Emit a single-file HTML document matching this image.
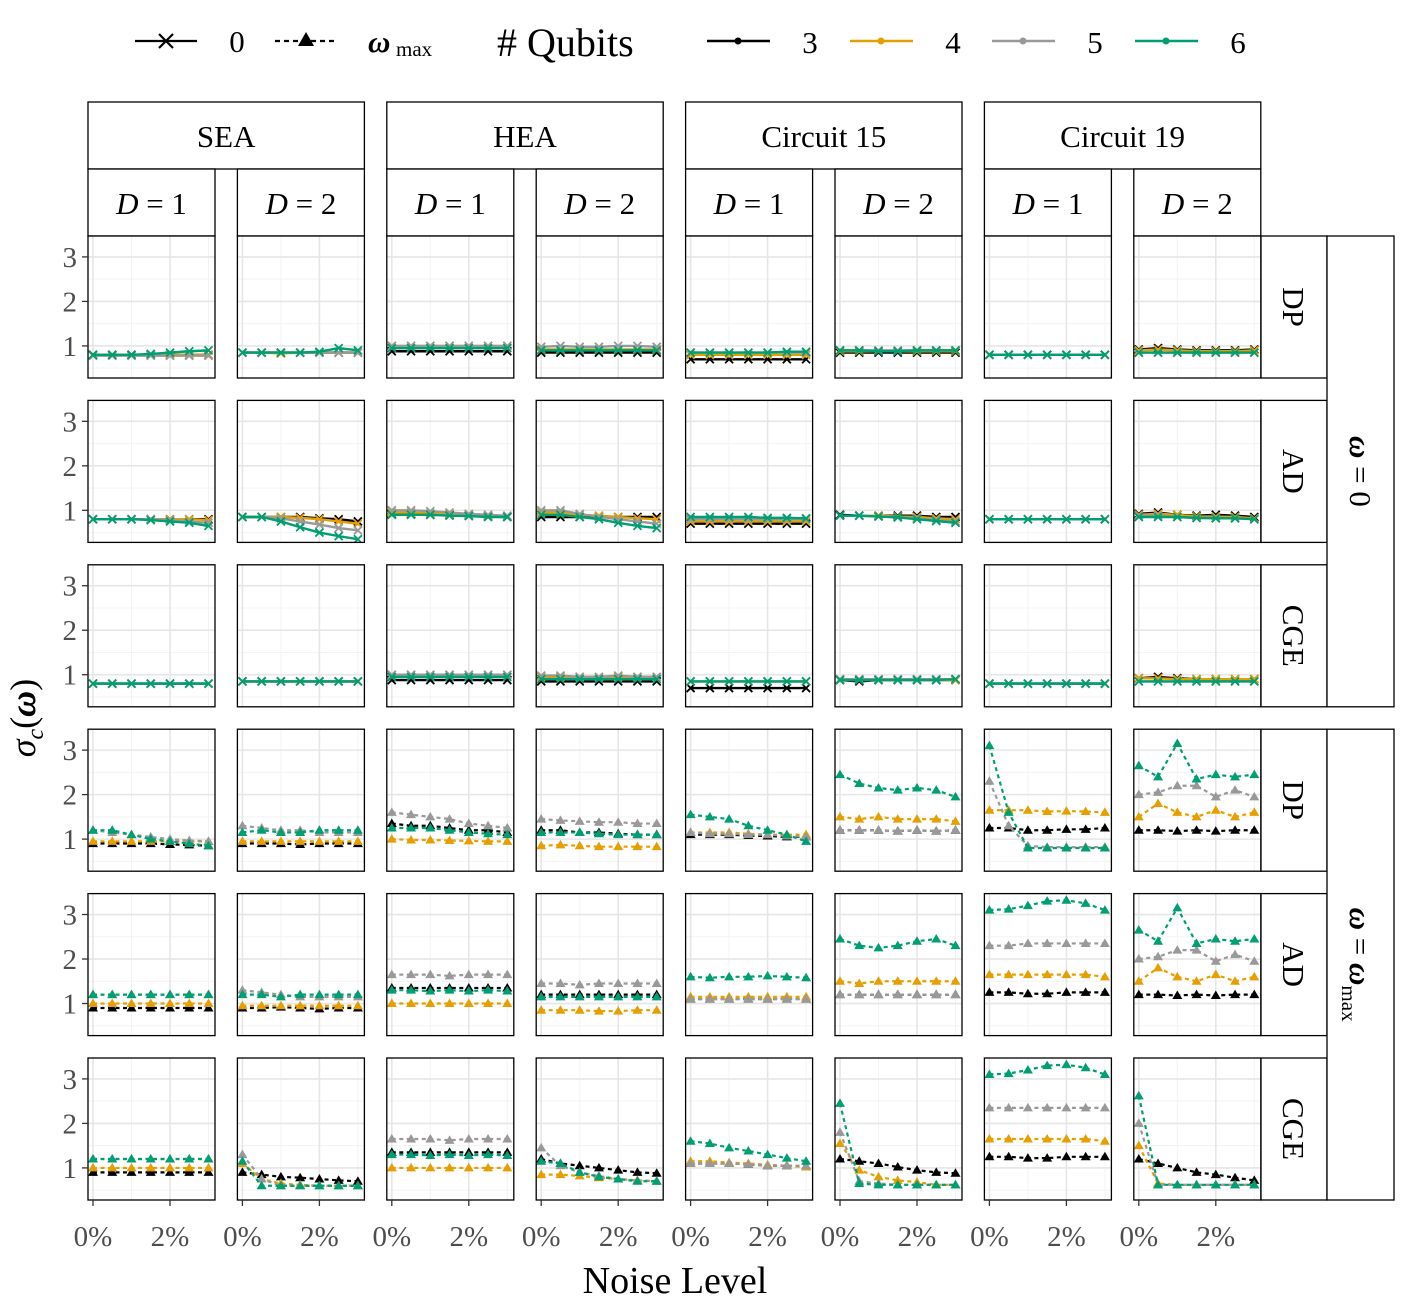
<!DOCTYPE html>
<html><head><meta charset="utf-8"><style>
html,body{margin:0;padding:0;background:#fff;}
svg{display:block;font-family:"Liberation Serif",serif;}
</style></head><body>
<svg id="chart" width="1415" height="1302" viewBox="0 0 1415 1302" xmlns="http://www.w3.org/2000/svg">
<g id="legend">
  <g>
    <line x1="135" y1="41" x2="197" y2="41" stroke="#000" stroke-width="2.2"/>
    <path d="M159,34 L173,48 M173,34 L159,48" stroke="#000" stroke-width="2.2"/>
    <text x="237" y="52" font-size="31" text-anchor="middle">0</text>
  </g>
  <g>
    <line x1="275" y1="41" x2="337" y2="41" stroke="#000" stroke-width="2.2" stroke-dasharray="5,4"/>
    <path d="M306,32 L314,46 L298,46 Z" fill="#000"/>
    <text x="368" y="52" font-size="31" font-style="italic" font-weight="bold">ω</text>
    <text x="396" y="56" font-size="21">max</text>
  </g>
  <text x="497" y="56" font-size="40"># Qubits</text>
  <g id="qlegend"></g>
</g>
<g id="plot"></g>
<text x="675" y="1293" font-size="38" text-anchor="middle">Noise Level</text>
<g transform="translate(35,718) rotate(-90)">
  <text x="0" y="0" font-size="36" text-anchor="middle"><tspan font-style="italic">σ</tspan><tspan font-size="24" font-style="italic" dy="8">c</tspan><tspan dy="-8">(</tspan><tspan font-weight="bold" font-style="italic">ω</tspan><tspan>)</tspan></text>
</g>
</svg>
<script>
const colors = ["#000000","#E69F00","#999999","#009E73"];
const qubitLabels = ["3","4","5","6"];
const noiseLevels = [0,0.5,1,1.5,2,2.5,3];
const groups = ["SEA","HEA","Circuit 15","Circuit 19"];
const rowLabels = ["DP","AD","CGE","DP","AD","CGE"];
const yTicks = [1,2,3];
const xTicks = [0,2];
const xTickLabels = ["0%","2%"];
// data[row][col] = [q3,q4,q5,q6], each 7 values
const rowDP0 = [
 ["0.8 0.8 0.8 0.8 0.8 0.8 0.8","0.8 0.8 0.8 0.8 0.8 0.8 0.8","0.78 0.78 0.78 0.78 0.78 0.78 0.78","0.8 0.8 0.8 0.82 0.85 0.88 0.9"],
 ["0.85 0.85 0.85 0.85 0.85 0.85 0.85","0.85 0.85 0.83 0.85 0.85 0.85 0.85","0.85 0.85 0.85 0.85 0.85 0.85 0.85","0.85 0.85 0.85 0.85 0.87 0.95 0.9"],
 ["0.88 0.88 0.88 0.88 0.88 0.88 0.88","1.0 1.0 1.0 1.0 1.0 1.0 1.0","1.0 1.0 1.0 1.0 1.0 1.0 1.0","0.95 0.95 0.95 0.95 0.95 0.95 0.95"],
 ["0.85 0.85 0.85 0.85 0.85 0.85 0.85","0.92 0.92 0.92 0.92 0.92 0.92 0.92","0.98 1.0 0.98 0.98 1.0 1.0 0.98","0.9 0.9 0.9 0.9 0.9 0.9 0.9"],
 ["0.7 0.7 0.7 0.7 0.7 0.7 0.7","0.8 0.8 0.8 0.8 0.8 0.8 0.8","0.85 0.85 0.85 0.85 0.85 0.85 0.85","0.85 0.85 0.85 0.85 0.85 0.87 0.87"],
 ["0.85 0.85 0.85 0.85 0.85 0.85 0.85","0.88 0.88 0.88 0.88 0.88 0.88 0.88","0.9 0.9 0.9 0.9 0.9 0.9 0.9","0.9 0.9 0.88 0.88 0.9 0.9 0.9"],
 ["0.8 0.8 0.8 0.8 0.8 0.8 0.8","0.8 0.8 0.8 0.8 0.8 0.8 0.8","0.8 0.8 0.8 0.8 0.8 0.8 0.8","0.8 0.8 0.8 0.8 0.8 0.8 0.8"],
 ["0.92 0.95 0.92 0.9 0.9 0.9 0.92","0.9 0.92 0.9 0.88 0.88 0.88 0.9","0.85 0.85 0.85 0.85 0.85 0.85 0.85","0.85 0.85 0.85 0.85 0.85 0.85 0.85"]
];
const rowAD0 = [
 ["0.8 0.8 0.8 0.8 0.8 0.8 0.8","0.8 0.8 0.8 0.8 0.8 0.8 0.78","0.8 0.8 0.8 0.8 0.78 0.75 0.72","0.8 0.8 0.8 0.78 0.75 0.72 0.65"],
 ["0.85 0.85 0.85 0.85 0.82 0.8 0.75","0.85 0.85 0.85 0.83 0.8 0.75 0.7","0.85 0.85 0.82 0.75 0.68 0.6 0.55","0.85 0.85 0.75 0.62 0.5 0.42 0.35"],
 ["0.92 0.92 0.9 0.9 0.88 0.86 0.85","0.95 0.95 0.93 0.92 0.9 0.88 0.86","1.0 1.0 0.98 0.95 0.92 0.9 0.88","0.9 0.9 0.9 0.88 0.87 0.85 0.85"],
 ["0.85 0.85 0.85 0.85 0.85 0.85 0.85","0.95 0.95 0.9 0.88 0.85 0.82 0.8","1.0 1.0 0.92 0.85 0.8 0.75 0.7","0.9 0.9 0.85 0.8 0.72 0.65 0.6"],
 ["0.7 0.7 0.7 0.7 0.7 0.7 0.7","0.75 0.75 0.75 0.75 0.75 0.75 0.75","0.8 0.8 0.8 0.8 0.8 0.8 0.8","0.85 0.85 0.85 0.85 0.83 0.83 0.82"],
 ["0.9 0.88 0.88 0.88 0.88 0.85 0.85","0.88 0.88 0.88 0.86 0.85 0.82 0.8","0.88 0.88 0.86 0.85 0.82 0.78 0.75","0.88 0.88 0.86 0.84 0.8 0.76 0.72"],
 ["0.8 0.8 0.8 0.8 0.8 0.8 0.8","0.8 0.8 0.8 0.8 0.8 0.8 0.8","0.8 0.8 0.8 0.8 0.8 0.8 0.8","0.8 0.8 0.8 0.8 0.8 0.8 0.8"],
 ["0.92 0.95 0.9 0.88 0.9 0.88 0.85","0.9 0.92 0.9 0.86 0.86 0.85 0.82","0.88 0.88 0.85 0.83 0.83 0.82 0.8","0.85 0.85 0.85 0.83 0.82 0.82 0.8"]
];
const rowCGE0 = [
 ["0.8 0.8 0.8 0.8 0.8 0.8 0.8","0.8 0.8 0.8 0.8 0.8 0.8 0.8","0.8 0.8 0.8 0.8 0.8 0.8 0.8","0.8 0.8 0.8 0.8 0.8 0.8 0.8"],
 ["0.85 0.85 0.85 0.85 0.85 0.85 0.85","0.85 0.85 0.85 0.85 0.85 0.85 0.85","0.85 0.85 0.85 0.85 0.85 0.85 0.85","0.85 0.85 0.85 0.85 0.85 0.85 0.85"],
 ["0.88 0.88 0.88 0.88 0.88 0.88 0.88","1.0 1.0 1.0 1.0 1.0 1.0 1.0","1.0 1.0 1.0 1.0 1.0 1.0 1.0","0.95 0.95 0.95 0.95 0.95 0.95 0.95"],
 ["0.85 0.85 0.85 0.85 0.85 0.85 0.85","0.95 0.95 0.95 0.95 0.95 0.95 0.95","0.98 0.98 0.95 0.95 0.98 0.95 0.95","0.9 0.9 0.9 0.9 0.9 0.9 0.9"],
 ["0.7 0.7 0.7 0.7 0.7 0.7 0.7","0.85 0.85 0.85 0.85 0.85 0.85 0.85","0.85 0.85 0.85 0.85 0.85 0.85 0.85","0.85 0.85 0.85 0.85 0.85 0.85 0.85"],
 ["0.88 0.85 0.88 0.88 0.88 0.88 0.88","0.88 0.88 0.88 0.88 0.88 0.88 0.88","0.9 0.9 0.9 0.9 0.9 0.9 0.9","0.88 0.88 0.88 0.88 0.88 0.88 0.9"],
 ["0.8 0.8 0.8 0.8 0.8 0.8 0.8","0.8 0.8 0.8 0.8 0.8 0.8 0.8","0.8 0.8 0.8 0.8 0.8 0.8 0.8","0.8 0.8 0.8 0.8 0.8 0.8 0.8"],
 ["0.92 0.95 0.92 0.9 0.9 0.9 0.9","0.92 0.92 0.9 0.9 0.9 0.9 0.9","0.85 0.85 0.85 0.85 0.85 0.85 0.85","0.85 0.85 0.85 0.85 0.85 0.85 0.85"]
];
const rowDPm = [
 ["0.9 0.9 0.9 0.9 0.88 0.87 0.85","0.95 0.95 0.95 0.95 0.95 0.95 0.95","1.2 1.15 1.1 1.05 1.0 0.97 0.95","1.2 1.2 1.1 1.0 0.95 0.9 0.85"],
 ["0.9 0.9 0.9 0.88 0.9 0.9 0.9","0.95 0.95 0.95 0.95 0.95 0.95 0.95","1.3 1.25 1.2 1.2 1.15 1.15 1.15","1.15 1.2 1.15 1.15 1.2 1.2 1.2"],
 ["1.35 1.3 1.3 1.25 1.2 1.2 1.15","1.0 0.98 0.98 0.97 0.96 0.95 0.95","1.6 1.55 1.5 1.45 1.35 1.3 1.25","1.25 1.25 1.25 1.2 1.15 1.12 1.1"],
 ["1.2 1.2 1.15 1.15 1.12 1.1 1.1","0.85 0.87 0.85 0.83 0.83 0.83 0.83","1.45 1.42 1.4 1.38 1.38 1.35 1.35","1.15 1.15 1.15 1.12 1.1 1.1 1.1"],
 ["1.1 1.1 1.1 1.08 1.07 1.05 1.05","1.15 1.15 1.15 1.12 1.1 1.1 1.1","1.15 1.12 1.12 1.1 1.1 1.07 1.05","1.55 1.5 1.45 1.3 1.2 1.1 0.95"],
 ["1.2 1.2 1.2 1.18 1.2 1.18 1.2","1.5 1.45 1.5 1.45 1.45 1.45 1.4","1.2 1.2 1.2 1.18 1.2 1.18 1.2","2.45 2.25 2.15 2.1 2.15 2.1 1.95"],
 ["1.25 1.25 1.2 1.2 1.22 1.22 1.25","1.65 1.65 1.65 1.62 1.63 1.62 1.6","2.3 1.3 0.85 0.82 0.82 0.82 0.82","3.1 1.6 0.8 0.8 0.8 0.8 0.8"],
 ["1.2 1.2 1.18 1.2 1.18 1.2 1.2","1.5 1.8 1.6 1.5 1.65 1.5 1.6","2.0 2.05 2.2 2.2 1.95 2.1 1.95","2.65 2.4 3.15 2.35 2.45 2.4 2.45"]
];
const rowADm = [
 ["0.9 0.9 0.9 0.9 0.9 0.9 0.9","1.0 1.0 1.0 1.0 1.0 1.0 1.0","1.2 1.2 1.2 1.2 1.2 1.2 1.2","1.2 1.2 1.2 1.2 1.2 1.2 1.2"],
 ["0.9 0.9 0.92 0.9 0.88 0.9 0.9","0.95 0.95 0.95 0.95 0.95 0.95 0.95","1.3 1.25 1.2 1.15 1.15 1.15 1.15","1.2 1.2 1.15 1.2 1.2 1.2 1.2"],
 ["1.35 1.35 1.35 1.35 1.35 1.35 1.35","1.0 1.0 1.0 1.0 1.0 1.0 1.0","1.65 1.65 1.65 1.62 1.65 1.65 1.65","1.3 1.3 1.28 1.3 1.28 1.3 1.28"],
 ["1.2 1.2 1.2 1.2 1.2 1.2 1.2","0.85 0.85 0.85 0.83 0.83 0.85 0.85","1.45 1.45 1.42 1.45 1.45 1.45 1.45","1.15 1.15 1.15 1.15 1.15 1.15 1.15"],
 ["1.1 1.1 1.1 1.1 1.1 1.1 1.1","1.15 1.15 1.15 1.15 1.15 1.15 1.15","1.1 1.1 1.1 1.1 1.1 1.1 1.1","1.6 1.58 1.6 1.6 1.62 1.6 1.58"],
 ["1.2 1.2 1.2 1.2 1.2 1.2 1.2","1.5 1.45 1.5 1.5 1.5 1.5 1.5","1.2 1.2 1.2 1.2 1.2 1.2 1.2","2.45 2.3 2.25 2.3 2.4 2.45 2.3"],
 ["1.25 1.25 1.22 1.22 1.25 1.25 1.25","1.65 1.65 1.65 1.65 1.65 1.65 1.6","2.3 2.3 2.35 2.35 2.35 2.35 2.35","3.1 3.12 3.2 3.3 3.32 3.25 3.1"],
 ["1.2 1.2 1.18 1.2 1.18 1.2 1.2","1.5 1.8 1.6 1.5 1.65 1.5 1.6","2.0 2.05 2.2 2.2 1.95 2.1 1.95","2.65 2.4 3.15 2.35 2.45 2.4 2.45"]
];
const rowCGEm = [
 ["0.9 0.9 0.9 0.9 0.9 0.9 0.9","1.0 1.0 1.0 1.0 1.0 1.0 1.0","1.2 1.2 1.2 1.2 1.2 1.2 1.2","1.2 1.2 1.2 1.2 1.2 1.2 1.2"],
 ["0.9 0.85 0.8 0.78 0.75 0.72 0.7","1.1 0.75 0.65 0.62 0.6 0.6 0.6","1.3 0.75 0.6 0.6 0.6 0.6 0.6","1.15 0.6 0.6 0.6 0.6 0.6 0.6"],
 ["1.35 1.35 1.35 1.35 1.35 1.35 1.35","1.0 1.0 1.0 1.0 1.0 1.0 1.0","1.65 1.65 1.65 1.62 1.65 1.65 1.65","1.3 1.3 1.28 1.3 1.28 1.3 1.28"],
 ["1.2 1.1 1.05 1.0 0.95 0.9 0.88","0.85 0.85 0.82 0.78 0.75 0.72 0.7","1.45 1.05 0.9 0.82 0.75 0.72 0.7","1.15 1.1 0.9 0.8 0.75 0.7 0.7"],
 ["1.1 1.1 1.1 1.08 1.05 1.05 1.02","1.15 1.15 1.12 1.1 1.07 1.05 1.02","1.1 1.1 1.1 1.08 1.05 1.05 1.05","1.6 1.55 1.45 1.38 1.3 1.22 1.15"],
 ["1.2 1.15 1.1 1.02 0.95 0.9 0.88","1.55 0.95 0.8 0.72 0.68 0.62 0.62","1.8 0.7 0.65 0.62 0.62 0.62 0.62","2.45 0.65 0.62 0.62 0.62 0.62 0.62"],
 ["1.25 1.25 1.22 1.22 1.25 1.25 1.25","1.65 1.65 1.65 1.65 1.65 1.65 1.6","2.35 2.35 2.35 2.35 2.35 2.35 2.35","3.1 3.12 3.2 3.3 3.32 3.25 3.1"],
 ["1.2 1.1 1.0 0.9 0.85 0.78 0.72","1.5 0.65 0.62 0.62 0.62 0.62 0.62","2.0 0.62 0.62 0.62 0.62 0.62 0.62","2.62 0.62 0.62 0.62 0.62 0.62 0.62"]
];
const allRows = [rowDP0,rowAD0,rowCGE0,rowDPm,rowADm,rowCGEm];

const NS="http://www.w3.org/2000/svg";
function mk(tag, attrs, parent){const e=document.createElementNS(NS,tag);for(const k in attrs)e.setAttribute(k,attrs[k]);if(parent)parent.appendChild(e);return e;}
const plot=document.getElementById('plot');
const PW=127, PH=142, COLSTEP=149.4, ROWSTEP=164.4, X0=88, Y0=236;
const YMAX=3.47, YPX=44.5, XPX=38.5, XOFF=5;
function xs(col,v){return X0+col*COLSTEP+XOFF+v*XPX;}
function ys(row,v){return Y0+row*ROWSTEP+(YMAX-v)*YPX;}

// qubit legend
const ql=document.getElementById('qlegend');
const qlx=[707,850,992,1135];
for(let q=0;q<4;q++){
  const g=mk('g',{},ql);
  
  
  mk('line',{x1:qlx[q],y1:41,x2:qlx[q]+63,y2:41,stroke:colors[q],'stroke-width':2.5},g);
  mk('circle',{cx:qlx[q]+31,cy:41,r:3.5,fill:colors[q]},g);
  const t=mk('text',{x:qlx[q]+103,y:53,'font-size':31,'text-anchor':'middle'},g);t.textContent=qubitLabels[q];
}

// top strips
for(let gi=0;gi<4;gi++){
  const x=X0+2*gi*COLSTEP;
  const g=mk('g',{},plot);
  
  
  mk('rect',{x:x,y:102,width:COLSTEP+PW,height:67,fill:'#fff',stroke:'#000','stroke-width':1.3},g);
  const t=mk('text',{x:x+(COLSTEP+PW)/2,y:147,'font-size':31,'text-anchor':'middle'},g);t.textContent=groups[gi];
  for(let d=0;d<2;d++){
    const cx=x+d*COLSTEP;
    const sg=mk('g',{},plot);
    
    
    mk('rect',{x:cx,y:169,width:PW,height:67,fill:'#fff',stroke:'#000','stroke-width':1.3},sg);
    const tt=mk('text',{x:cx+PW/2,y:214,'font-size':31,'text-anchor':'middle'},sg);
    tt.innerHTML='<tspan font-style="italic">D</tspan> = '+(d+1);
  }
}
// right strips
for(let r=0;r<6;r++){
  const y=Y0+r*ROWSTEP;
  const g=mk('g',{},plot);
  
  
  mk('rect',{x:1261,y:y,width:66,height:PH,fill:'#fff',stroke:'#000','stroke-width':1.3},g);
  const t=mk('text',{x:0,y:0,'font-size':31,'text-anchor':'middle',transform:`translate(1283,${y+PH/2}) rotate(90)`},g);t.textContent=rowLabels[r];
}
for(let o=0;o<2;o++){
  const y=Y0+o*3*ROWSTEP, h=2*ROWSTEP+PH;
  const g=mk('g',{},plot);
  
  
  mk('rect',{x:1327,y:y,width:67,height:h,fill:'#fff',stroke:'#000','stroke-width':1.3},g);
  const t=mk('text',{x:0,y:0,'font-size':31,transform:`translate(1350,${y+h/2}) rotate(90)`,'text-anchor':'middle'},g);
  t.innerHTML=o?'<tspan font-weight="bold" font-style="italic">ω</tspan> = <tspan font-weight="bold" font-style="italic">ω</tspan><tspan font-size="21" dy="8">max</tspan>':'<tspan font-weight="bold" font-style="italic">ω</tspan> = 0';
}

// panels
for(let r=0;r<6;r++){
  for(let c=0;c<8;c++){
    const px=X0+c*COLSTEP, py=Y0+r*ROWSTEP;
    const g=mk('g',{},plot);
    
    
    mk('rect',{x:px,y:py,width:PW,height:PH,fill:'#fff'},g);
    const cid='clip'+r+'_'+c;
    const cp=mk('clipPath',{id:cid},g);mk('rect',{x:px,y:py,width:PW,height:PH},cp);
    [0.5,1.5,2.5].forEach(v=>{const y=ys(r,v);if(y>py&&y<py+PH)mk('line',{x1:px,x2:px+PW,y1:y,y2:y,stroke:'#f3f3f3','stroke-width':1},g);});
    [1,3].forEach(v=>mk('line',{x1:xs(c,v),x2:xs(c,v),y1:py,y2:py+PH,stroke:'#f3f3f3','stroke-width':1},g));
    yTicks.forEach(v=>mk('line',{x1:px,x2:px+PW,y1:ys(r,v),y2:ys(r,v),stroke:'#e6e6e6','stroke-width':1.6},g));
    xTicks.forEach(v=>mk('line',{x1:xs(c,v),x2:xs(c,v),y1:py,y2:py+PH,stroke:'#e6e6e6','stroke-width':1.6},g));
    const dg=mk('g',{'clip-path':`url(#${cid})`},g);
    const series=allRows[r][c];
    const dashed=r>=3;
    for(let q=0;q<4;q++){
      const vals=series[q].split(' ').map(Number);
      const pts=vals.map((v,i)=>[xs(c,noiseLevels[i]),ys(r,v)]);
      const sg=mk('g',{},dg);
      
      
      const pl=mk('polyline',{points:pts.map(p=>p.join(',')).join(' '),fill:'none',stroke:colors[q],'stroke-width':dashed?2.2:2.4},sg);
      if(dashed)pl.setAttribute('stroke-dasharray','4,3.5');
      pts.forEach(p=>{
        if(dashed){const m=mk('path',{d:`M${p[0]},${p[1]-5} L${p[0]+5},${p[1]+3.5} L${p[0]-5},${p[1]+3.5}Z`,fill:colors[q]},sg);
          }
        else{const m=mk('path',{d:`M${p[0]-4},${p[1]-4} L${p[0]+4},${p[1]+4} M${p[0]+4},${p[1]-4} L${p[0]-4},${p[1]+4}`,stroke:colors[q],'stroke-width':1.8},sg);
          }
      });
    }
    mk('rect',{x:px,y:py,width:PW,height:PH,fill:'none',stroke:'#000','stroke-width':1.3},g);
    if(c===0){
      yTicks.forEach(v=>{
        mk('line',{x1:px-6,x2:px,y1:ys(r,v),y2:ys(r,v),stroke:'#333','stroke-width':1.3},plot);
        const t=mk('text',{x:px-11,y:ys(r,v)+10,'font-size':29,'text-anchor':'end',fill:'#4d4d4d'},plot);
        
        t.textContent=v;
      });
    }
    if(r===5){
      xTicks.forEach((v,i)=>{
        mk('line',{x1:xs(c,v),x2:xs(c,v),y1:py+PH,y2:py+PH+6,stroke:'#333','stroke-width':1.3},plot);
        const t=mk('text',{x:xs(c,v),y:1246,'font-size':29,'text-anchor':'middle',fill:'#4d4d4d'},plot);
        
        t.textContent=xTickLabels[i];
      });
    }
  }
}
</script>
</body></html>
